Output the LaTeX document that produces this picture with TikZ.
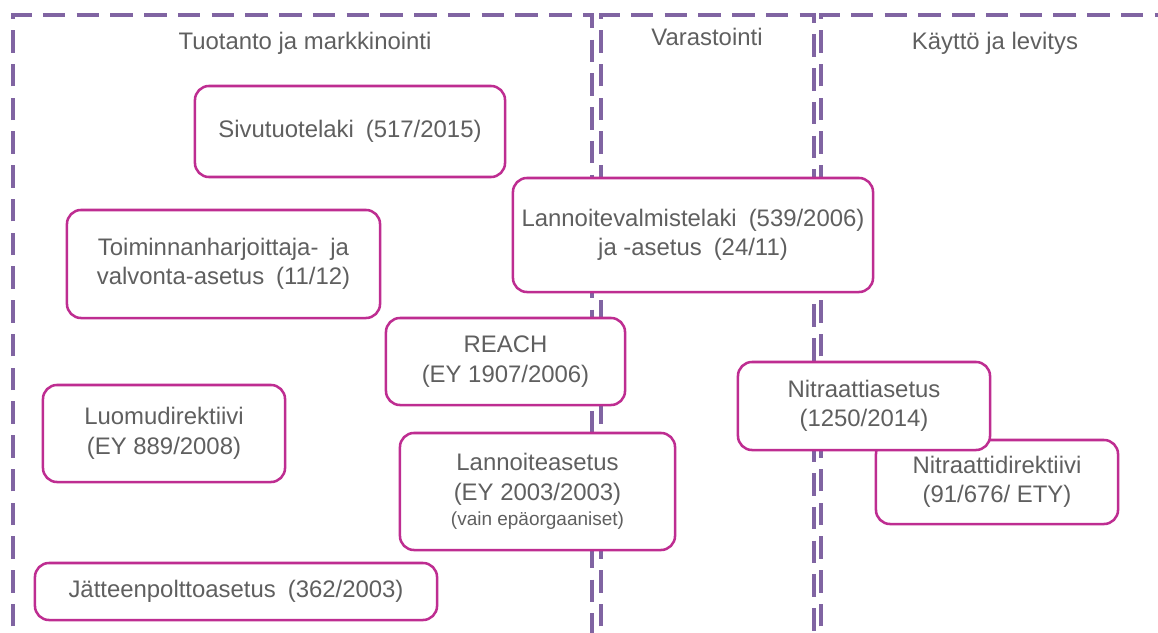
\documentclass[tikz,border=0pt]{standalone}
\usepackage{fontspec}
\setmainfont{Liberation Sans}
\usepackage{tikz}
\definecolor{mpurple}{RGB}{128, 100, 162}
\definecolor{mmagenta}{RGB}{190, 45, 145}
\definecolor{mgray}{RGB}{95, 95, 95}
\newcommand{\wgap}{\hspace{0.5em}}
\tikzset{region/.style = {draw=mpurple, line width=2.2pt, dash pattern=on 16pt off 8pt}}
\tikzset{law/.style = {draw=mmagenta, fill=white, line width=1.8pt, rounded corners=10pt,
                       align=center, text=mgray, inner sep=0,
                       font=\fontsize{17}{21}\selectfont}}
\tikzset{title/.style = {text=mgray, font=\fontsize{17}{21}\selectfont}}

\begin{document}
\begin{tikzpicture}[x=0.025cm, y=-0.025cm]
      \useasboundingbox (0, 0) rectangle (1158, 632);
      \clip (0, 0) rectangle (1158, 632);

      \draw [region] (13, 660) -- (13, 15) -- (592, 15) -- (592, 660);
      \draw [region] (601, 660) -- (601, 15) -- (814, 15) -- (814, 660);
      \draw [region] (821, 660) -- (821, 15) -- (1190, 15);

      \node [title] (tuotanto) at (305, 43) {Tuotanto ja markkinointi};
      \node [title] (varastointi) at (707, 37) {Varastointi};
      \node [title] (kaytto) at (995, 43) {Käyttö ja levitys};

      \node [law, minimum width=7.75cm, minimum height=2.275cm] (sivu) at (350, 131.5)
            {Sivutuotelaki\wgap(517/2015)};
      \node [law, minimum width=7.825cm, minimum height=2.7cm] (toim) at (223.5, 264)
            {Toiminnanharjoittaja-\wgap ja\\valvonta-asetus\wgap(11/12)};
      \node [law, minimum width=9cm, minimum height=2.85cm] (lvl) at (693, 235)
            {Lannoitevalmistelaki\wgap(539/2006)\\ja -asetus\wgap(24/11)};
      \node [law, minimum width=5.975cm, minimum height=2.175cm] (reach) at (505.5, 361.5)
            {REACH\\(EY 1907/2006)};
      \node [law, minimum width=6.05cm, minimum height=2.425cm] (luomu) at (164, 433.5)
            {Luomudirektiivi\\(EY 889/2008)};
      \node [law, minimum width=6.875cm, minimum height=2.925cm] (lasetus) at (537.5, 491.5)
            {Lannoiteasetus\\(EY 2003/2003)\\[-3pt]{\fontsize{13.5}{15}\selectfont (vain epäorgaaniset)}};
      \node [law, minimum width=6.05cm, minimum height=2.1cm] (ndir) at (997, 482)
            {Nitraattidirektiivi\\(91/676/ ETY)};
      \node [law, minimum width=6.3cm, minimum height=2.2cm] (nasetus) at (864, 406)
            {Nitraattiasetus\\(1250/2014)};
      \node [law, minimum width=10.05cm, minimum height=1.425cm] (jate) at (236, 591.5)
            {Jätteenpolttoasetus\wgap(362/2003)};
    \end{tikzpicture}
\end{document}
